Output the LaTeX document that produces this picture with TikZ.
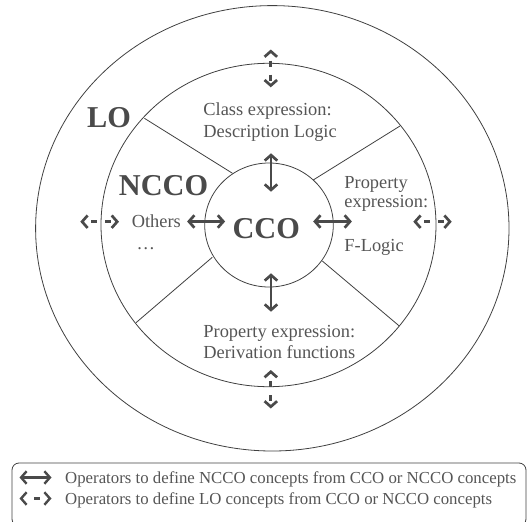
\documentclass[tikz,border=0pt]{standalone}
\usepackage{fontspec}
\setmainfont{Liberation Serif}
\usetikzlibrary{arrows.meta}
\definecolor{linegray}{HTML}{404040}
\definecolor{txtgray}{HTML}{555555}
\definecolor{argray}{HTML}{4A4A4A}
\tikzset{
  ring/.style={draw=linegray, line width=0.8pt},
  divider/.style={draw=linegray, line width=0.8pt},
  label/.style={text=txtgray, inner sep=0pt, font=\fontsize{18.4}{22}\selectfont},
  biglabel/.style={text=argray, inner sep=0pt, font=\fontsize{30.3}{34}\selectfont\bfseries},
  legtext/.style={text=txtgray, inner sep=0pt, anchor=base west, font=\fontsize{16.8}{20}\selectfont},
  ncarrow/.style={draw=argray, line width=2.7pt,
    {Straight Barb[length=5.5pt,width=12.5pt]}-{Straight Barb[length=5.5pt,width=12.5pt]}},
  loarrow/.style={ncarrow, dash pattern=on 6pt off 8pt, dash phase=6pt},
}
\begin{document}
\begin{tikzpicture}[x=1pt,y=-1pt]
\useasboundingbox (0,0) rectangle (528,522);
% rings
\draw[ring] (272.3,228.3) ellipse [x radius=236.7pt, y radius=222.7pt];
\draw[ring] (268.5,225) ellipse [x radius=167.5pt, y radius=161.7pt];
\draw[ring] (269,225) ellipse [x radius=64.3pt, y radius=62pt];
% dividers
\draw[divider] (144.4,118.3) -- (232.5,173.3);
\draw[divider] (400,126) -- (313.2,180);
\draw[divider] (136,322.7) -- (212.3,257.3);
\draw[divider] (399.3,326) -- (322.3,261);
% texts
\node[biglabel, anchor=base] (lo) at (109,127) {LO};
\node[biglabel, anchor=base] (ncco) at (163.5,195) {NCCO};
\node[biglabel, anchor=base] (cco) at (266.2,238) {CCO};
\node[label, anchor=base west] (ce1) at (203.2,115) {Class expression:};
\node[label, anchor=base west] (ce2) at (203.2,137) {Description Logic};
\node[label, anchor=base west] (pe1) at (344.2,188) {Property};
\node[label, anchor=base west] (pe2) at (344.2,207.5) {expression:};
\node[label, anchor=base west] (fl) at (344.2,251) {F-Logic};
\node[label, anchor=base west] (pd1) at (203.2,337) {Property expression:};
\node[label, anchor=base west] (pd2) at (203.2,358) {Derivation functions};
\node[label, anchor=base west] (oth) at (131.6,227) {Others};
\node[label, anchor=base] (dots) at (145.9,249) {\dots};
% solid arrows
\coordinate (st1) at (271,153.3); \coordinate (st2) at (271,191.7);
\coordinate (sb1) at (271,273.3); \coordinate (sb2) at (271,311.7);
\coordinate (sl1) at (187.1,221.5); \coordinate (sl2) at (225.1,221.5);
\coordinate (sr1) at (313.2,221.5); \coordinate (sr2) at (351.9,221.5);
\draw[ncarrow] (st1) -- (st2);
\draw[ncarrow] (sb1) -- (sb2);
\draw[ncarrow] (sl1) -- (sl2);
\draw[ncarrow] (sr1) -- (sr2);
% dashed arrows
\coordinate (dt1) at (270.8,49.5); \coordinate (dt2) at (270.8,87.3);
\coordinate (db1) at (270.8,370); \coordinate (db2) at (270.8,408.5);
\coordinate (dl1) at (80.3,221.7); \coordinate (dl2) at (119,221.7);
\coordinate (dr1) at (413.3,221.7); \coordinate (dr2) at (451.7,221.7);
\draw[loarrow] (dt1) -- (dt2);
\draw[loarrow] (db1) -- (db2);
\draw[loarrow] (dl1) -- (dl2);
\draw[loarrow] (dr1) -- (dr2);
% legend
\draw[draw=linegray, line width=0.8pt, rounded corners=7pt] (12,463) rectangle (526,526);
\coordinate (la1) at (19.5,477.5); \coordinate (la2) at (51.5,477.5);
\coordinate (lb1) at (19.5,498.5); \coordinate (lb2) at (51.5,498.5);
\draw[ncarrow, line width=2.4pt] (la1) -- (la2);
\draw[loarrow, line width=2.4pt, dash pattern=on 6pt off 24pt, dash phase=18pt] (lb1) -- (lb2);
\node[legtext] (leg1) at (65,483.3) {Operators to define NCCO concepts from CCO or NCCO concepts};
\node[legtext] (leg2) at (65,504) {Operators to define LO concepts from CCO or NCCO concepts};
\end{tikzpicture}
\end{document}
